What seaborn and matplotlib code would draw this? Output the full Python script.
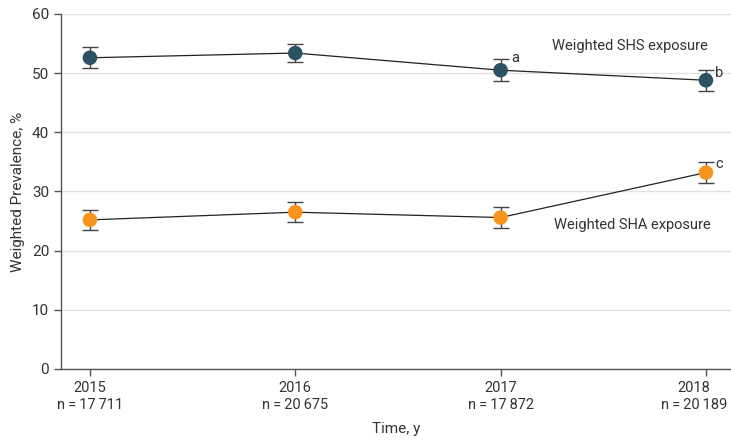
import matplotlib
matplotlib.use("Agg")
import matplotlib.pyplot as plt
import matplotlib.transforms as mtrans
import seaborn as sb
import pandas as pd

years = [2015, 2016, 2017, 2018]
sample_sizes = ["17\u2009711", "20\u2009675", "17\u2009872", "20\u2009189"]

shs = [52.6, 53.4, 50.5, 48.8]
shs_lo = [50.8, 51.9, 48.7, 47.0]
shs_hi = [54.5, 55.0, 52.4, 50.6]

sha = [25.2, 26.5, 25.6, 33.2]
sha_lo = [23.5, 24.8, 23.9, 31.5]
sha_hi = [26.9, 28.2, 27.3, 34.9]

series_labels = ["Weighted SHS exposure", "Weighted SHA exposure"]
letters = ["a", "b", "c"]

teal = "#2a5261"
orange = "#f7941d"

sb.set_style("white")
plt.rcParams["font.family"] = ["Roboto", "DejaVu Sans"]

fig = plt.figure(figsize=(7.31, 4.4), dpi=100)
ax = fig.add_axes([0.0834, 0.1614, 0.9166, 0.8068])

df = pd.DataFrame({"year": years * 2,
                   "value": shs + sha,
                   "series": ["SHS"] * 4 + ["SHA"] * 4})

for name, color, lo, hi in [("SHS", teal, shs_lo, shs_hi), ("SHA", orange, sha_lo, sha_hi)]:
    sub = df[df.series == name]
    sb.lineplot(data=sub, x="year", y="value", color="#222222", lw=0.9, ax=ax, zorder=2)
    vals = sub["value"].to_numpy()
    ax.errorbar(sub["year"], vals, yerr=[vals - lo, hi - vals], fmt="none",
                ecolor="#444444", elinewidth=1.0, capsize=6, capthick=1.0, zorder=3)
    sb.scatterplot(data=sub, x="year", y="value", color=color, s=110, edgecolor="none",
                   ax=ax, zorder=4)

ax.set_xlim(2014.859, 2018.122)
ax.set_ylim(0, 60)
ax.set_yticks(range(0, 61, 10))
ax.set_xticks(years)
ax.set_xticklabels([f"{y}\nn\u2009=\u2009{n}" for y, n in zip(years, sample_sizes)],
                   fontsize=10.5, color="#333333", linespacing=1.25)
ax.tick_params(axis="y", labelsize=11, colors="#333333")
ax.tick_params(axis="both", direction="out", length=5, width=1, color="#555555",
               left=True, bottom=True)
ax.tick_params(axis="x", pad=4)
ax.grid(axis="y", color="#e2e2e2", lw=1)
ax.set_axisbelow(True)
for s in ["top", "right"]:
    ax.spines[s].set_visible(False)
for s in ["left", "bottom"]:
    ax.spines[s].set_color("#555555")
    ax.spines[s].set_linewidth(1)

# last tick label would run off the right edge
last = ax.get_xticklabels()[-1]
last.set_transform(last.get_transform() + mtrans.ScaledTranslation(-0.12, 0, fig.dpi_scale_trans))

ax.set_xlabel("Time, y", fontsize=11, color="#333333", labelpad=7)
ax.set_ylabel("Weighted Prevalence, %", fontsize=11, color="#333333", labelpad=5)

ax.text(2017.25, 54.6, series_labels[0], fontsize=10.5, color="#333333", va="center")
ax.text(2017.26, 24.3, series_labels[1], fontsize=10.5, color="#333333", va="center")
ax.text(years[2] + 0.05, shs[2] + 2.0, letters[0], fontsize=10.5, color="#333333", va="center")
ax.text(years[3] + 0.045, shs[3] + 1.2, letters[1], fontsize=10.5, color="#333333", va="center")
ax.text(years[3] + 0.045, sha[3] + 1.4, letters[2], fontsize=10.5, color="#333333", va="center")

fig.savefig("out.png", dpi=100)
